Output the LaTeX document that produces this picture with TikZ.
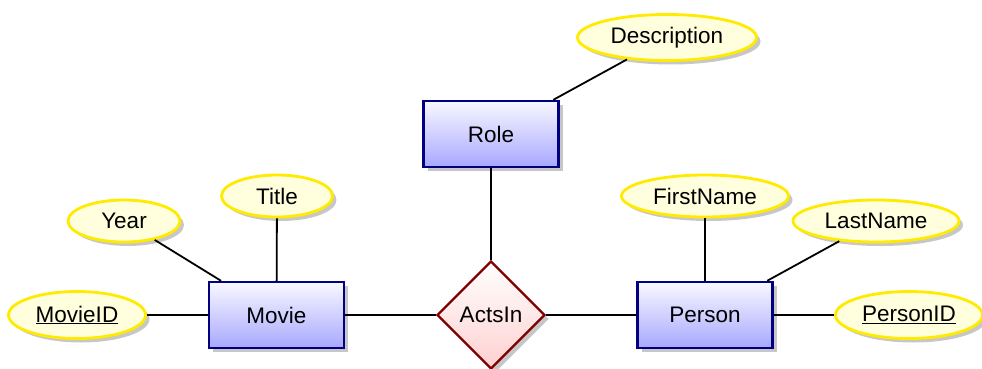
\documentclass[tikz,border=0pt]{standalone}
\usepackage{fontspec}
\setmainfont{Liberation Sans}
\usetikzlibrary{shapes.geometric,shadows}
\definecolor{entbot}{RGB}{168,168,255}
\definecolor{enttop}{RGB}{248,248,255}
\definecolor{entline}{RGB}{0,0,128}
\definecolor{attfill}{RGB}{255,255,222}
\definecolor{attline}{RGB}{255,234,0}
\definecolor{relbot}{RGB}{255,208,208}
\definecolor{relline}{RGB}{128,0,0}
\tikzset{
  entity/.style={rectangle, draw=entline, line width=2.4pt, top color=enttop, bottom color=entbot,
    minimum width=135pt, minimum height=66pt, inner sep=0pt,
    drop shadow={shadow xshift=4pt, shadow yshift=-4pt, fill=black, opacity=0.22}},
  attribute/.style={ellipse, draw=attline, line width=2.8pt, fill=attfill, inner sep=0pt,
    drop shadow={shadow xshift=4pt, shadow yshift=-4pt, fill=black, opacity=0.22}},
  relation/.style={diamond, draw=relline, line width=2.4pt, top color=white, bottom color=relbot,
    minimum width=108pt, minimum height=108pt, inner sep=0pt,
    drop shadow={shadow xshift=4pt, shadow yshift=-4pt, fill=black, opacity=0.22}},
  conn/.style={draw=black, line width=1.8pt}
}
\begin{document}
\begin{tikzpicture}[x=1pt,y=-1pt,font=\fontsize{22.5}{27}\selectfont]
\useasboundingbox (0,0) rectangle (982,369);
\node[entity] (movie) at (276.5,315) {Movie};
\node[entity] (role) at (491,134) {Role};
\node[entity] (person) at (705,315) {Person};
\node[relation] (acts) at (491,315) {ActsIn};
\node[attribute, minimum width=179pt, minimum height=46pt] (desc) at (667,37.5) {Description};
\node[attribute, minimum width=112pt, minimum height=42pt] (year) at (124,221) {Year};
\node[attribute, minimum width=111pt, minimum height=42pt] (title) at (277,196) {Title};
\node[attribute, minimum width=137pt, minimum height=47pt] (mid) at (77,315) {\underline{MovieID}};
\node[attribute, minimum width=167pt, minimum height=42pt] (fname) at (705,196) {FirstName};
\node[attribute, minimum width=166pt, minimum height=42pt] (lname) at (876,221) {LastName};
\node[attribute, minimum width=147pt, minimum height=47pt] (pid) at (909,315) {\underline{PersonID}};
\draw[conn] (desc) -- (role);
\draw[conn] (role) -- (acts);
\draw[conn] (movie) -- (acts);
\draw[conn] (acts) -- (person);
\draw[conn] (year) -- (movie);
\draw[conn] (title) -- (movie);
\draw[conn] (mid) -- (movie);
\draw[conn] (fname) -- (person);
\draw[conn] (lname) -- (person);
\draw[conn] (pid) -- (person);
\end{tikzpicture}
\end{document}
